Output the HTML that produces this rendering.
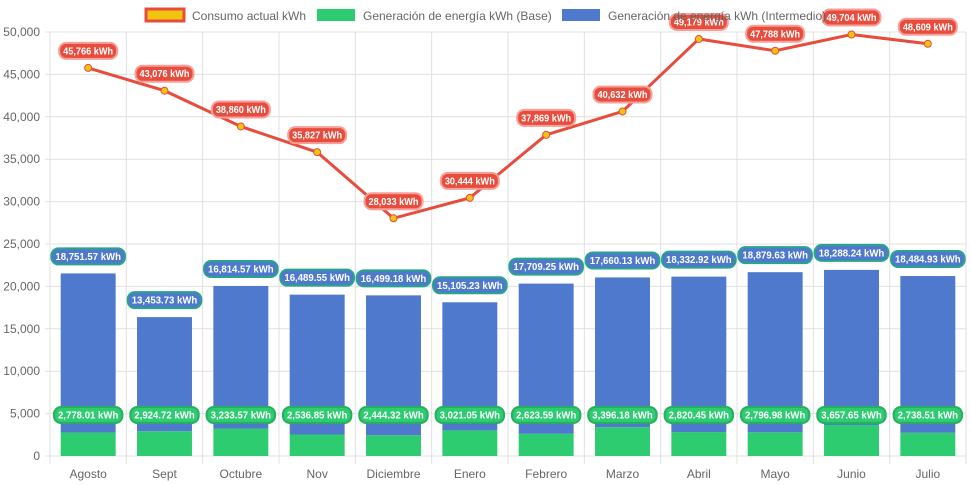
<!DOCTYPE html>
<html><head><meta charset="utf-8"><style>
body{margin:0;background:#fff;}
svg{display:block;font-family:"Liberation Sans",Arial,sans-serif;}
</style></head><body>
<svg id="chart" width="971" height="485"></svg>
<script>
const categories=["Agosto","Sept","Octubre","Nov","Diciembre","Enero","Febrero","Marzo","Abril","Mayo","Junio","Julio"];
const consumo=[45766,43076,38860,35827,28033,30444,37869,40632,49179,47788,49704,48609];
const base=[2778.01,2924.72,3233.57,2536.85,2444.32,3021.05,2623.59,3396.18,2820.45,2796.98,3657.65,2738.51];
const inter=[18751.57,13453.73,16814.57,16489.55,16499.18,15105.23,17709.25,17660.13,18332.92,18879.63,18288.24,18484.93];
const yTicks=[0,5000,10000,15000,20000,25000,30000,35000,40000,45000,50000];
const NS="http://www.w3.org/2000/svg";
const svg=document.getElementById('chart');
const L=50,R=966,T=32,B=456,yMax=50000;
const cw=(R-L)/categories.length;
const x=i=>L+cw*(i+0.5);
const y=v=>B-(v/yMax)*(B-T);
function mk(tag,attrs,parent){const e=document.createElementNS(NS,tag);for(const k in attrs)e.setAttribute(k,attrs[k]);(parent||svg).appendChild(e);return e;}
const fmt0=v=>v.toLocaleString('en-US');
const fmt2=v=>v.toLocaleString('en-US',{minimumFractionDigits:2,maximumFractionDigits:2});
yTicks.forEach(t=>{
  const g=mk('line',{x1:L-5,x2:R,y1:y(t),y2:y(t),stroke:'#e0e0e0'});
  
  const tx=mk('text',{x:L-10,y:y(t)+4,'text-anchor':'end','font-size':12,fill:'#666'});
  tx.textContent=fmt0(t);
  
});
for(let i=0;i<=categories.length;i++){
  const g=mk('line',{x1:L+cw*i,x2:L+cw*i,y1:T,y2:B+8,stroke:'#e0e0e0'});
  
}
categories.forEach((c,i)=>{
  const tx=mk('text',{x:x(i),y:B+22,'text-anchor':'middle','font-size':12,fill:'#666'});
  tx.textContent=c;
  
});
const bw=cw*0.72;
function label(cx,cy,text,fill,stroke,name){
  const g=mk('g',{});
  
  const w=text.length*5.2+6;
  mk('rect',{x:cx-w/2,y:cy-8,width:w,height:16,rx:7,fill:fill,stroke:stroke,'stroke-width':2},g);
  const t=mk('text',{x:cx,y:cy+3.5,'text-anchor':'middle','font-size':10,'font-weight':'bold',fill:'#fff','textLength':w-8,'lengthAdjust':'spacingAndGlyphs'},g);
  t.textContent=text;
}
categories.forEach((c,i)=>{
  const b1=mk('rect',{x:x(i)-bw/2,y:y(base[i]),width:bw,height:B-y(base[i]),fill:'#2ecc71'});
  
  const b2=mk('rect',{x:x(i)-bw/2,y:y(base[i]+inter[i]),width:bw,height:y(base[i])-y(base[i]+inter[i]),fill:'#4e79cc'});
  
});
categories.forEach((c,i)=>{
  label(x(i),415,fmt2(base[i])+' kWh','#2ecc71','#27ae60','base-value-label');
  label(x(i),y(base[i]+inter[i])-17,fmt2(inter[i])+' kWh','#4e79cc','#27a58a','intermediate-value-label');
});
const pts=consumo.map((v,i)=>x(i)+','+y(v)).join(' ');
const pl=mk('polyline',{points:pts,fill:'none',stroke:'#e74c3c','stroke-width':3});

consumo.forEach((v,i)=>{
  const p=mk('circle',{cx:x(i),cy:y(v),r:3.5,fill:'#f1c40f',stroke:'#e74c3c','stroke-width':1});
  
});
consumo.forEach((v,i)=>{
  label(x(i),y(v)-17,fmt0(v)+' kWh','#e74c3c','#f5a09a','consumo-value-label');
});
const lg=mk('g',{});
const items=[['Consumo actual kWh',145,'#f1c40f','#e74c3c'],['Generación de energía kWh (Base)',316,'#2ecc71','#2ecc71'],['Generación de energía kWh (Intermedio)',561,'#4e79cc','#4e79cc']];
items.forEach(([t,lx,f,s])=>{
  const g=mk('g',{},lg);
  mk('rect',{x:lx+1,y:9,width:38,height:12,fill:f,stroke:s,'stroke-width':s===f?0:3},g);
  const tx=mk('text',{x:lx+47,y:20,'font-size':12,fill:'#666'},g);tx.textContent=t;
});
</script>
</body></html>
